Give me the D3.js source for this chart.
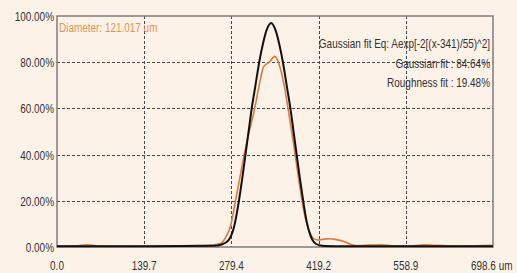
<!DOCTYPE html>
<html>
<head>
<meta charset="utf-8">
<script src="https://cdn.jsdelivr.net/npm/d3@7"></script>
<style>
  body { margin: 0; background: #fcf2e8; }
  text { font-family: "Liberation Sans", Arial, sans-serif; }
</style>
</head>
<body>
<div id="chart"></div>
<script>
// x ticks (um) and y ticks (%)
const xTicks = [0.0, 139.7, 279.4, 419.2, 558.9, 698.6];
const xTickLabels = ["0.0", "139.7", "279.4", "419.2", "558.9", "698.6 um"];
const yTicks = [0, 20, 40, 60, 80, 100];

// gaussian fit curve (black)
const fitX = [0, 150, 250, 265, 275, 283, 291.5, 297, 302, 307, 312, 318, 324, 330, 336, 343, 350, 356, 362, 368, 374, 379, 384, 389, 394.5, 400, 406, 412, 420, 430, 460, 698.6];
const fitY = [0.3, 0.3, 0.5, 1.2, 3, 8, 20, 30, 40, 50, 60, 70, 80, 88, 94, 97, 94, 88, 80, 70, 60, 50, 40, 30, 20, 11, 5, 2, 0.8, 0.4, 0.3, 0.3];

// measured roughness profile (orange)
const profX = [0, 30, 48, 65, 120, 200, 240, 262, 270, 278, 286, 293, 300, 308, 316, 324, 331, 340, 349, 356, 364, 372, 380, 388, 396, 404, 412, 419, 428, 438, 448, 460, 470, 480, 500, 520, 540, 560, 590, 610, 640, 670, 698.6];
const profY = [0.4, 0.5, 1.0, 0.4, 0.3, 0.5, 0.6, 1.5, 4, 9, 20, 30, 40, 50, 59, 70, 78, 80, 82.5, 79, 70, 57, 43, 28, 15, 7, 3.5, 3, 3.4, 3.6, 3.2, 2.4, 1.2, 0.6, 0.8, 1.0, 0.5, 0.4, 0.9, 0.7, 0.4, 0.5, 0.7];

const diameterLabel = "Diameter: 121.017 um";
const infoLines = [
  "Gaussian fit Eq: Aexp[-2[(x-341)/55)^2]",
  "Gaussian fit : 84.64%",
  "Roughness fit : 19.48%"
];

const WIDTH = 517;
const HEIGHT = 273;
const MARGIN = { LEFT: 57, RIGHT: 24, TOP: 16, BOTTOM: 26 };
const SQUEEZE = 0.83; // labels in the original use a narrow face

const svg = d3.select("#chart")
  .append("svg")
  .attr("width", WIDTH)
  .attr("height", HEIGHT);

svg.append("rect")
  .attr("width", WIDTH)
  .attr("height", HEIGHT)
  .attr("fill", "#fcf2e8");

const x = d3.scaleLinear()
  .domain([0, 698.6])
  .range([MARGIN.LEFT, WIDTH - MARGIN.RIGHT]);

const y = d3.scaleLinear()
  .domain([0, 100])
  .range([HEIGHT - MARGIN.BOTTOM, MARGIN.TOP]);

const narrow = (px, py) => `translate(${px},${py}) scale(${SQUEEZE},1)`;

// grid
const grid = svg.append("g")
  .attr("stroke", "#4a4a4a")
  .attr("stroke-width", 1)
  .attr("stroke-dasharray", "3,2");

grid.selectAll(".hgrid")
  .data(yTicks.filter((d) => d > 0 && d < 100))
  .enter()
  .append("line")
  .attr("x1", x(0))
  .attr("x2", x(698.6))
  .attr("y1", (d) => Math.round(y(d)) + 0.5)
  .attr("y2", (d) => Math.round(y(d)) + 0.5);

grid.selectAll(".vgrid")
  .data(xTicks.slice(1, -1))
  .enter()
  .append("line")
  .attr("x1", (d) => Math.round(x(d)) + 0.5)
  .attr("x2", (d) => Math.round(x(d)) + 0.5)
  .attr("y1", y(100))
  .attr("y2", y(0));

// frame
svg.append("rect")
  .attr("x", x(0))
  .attr("y", y(100))
  .attr("width", x(698.6) - x(0))
  .attr("height", y(0) - y(100))
  .attr("fill", "none")
  .attr("stroke", "#7c7c7c")
  .attr("stroke-width", 1.5);

// y labels
svg.selectAll(".ylab")
  .data(yTicks)
  .enter()
  .append("text")
  .attr("transform", (d) => narrow(x(0) - 3, y(d) + 5))
  .attr("text-anchor", "end")
  .attr("font-size", "12px")
  .attr("fill", "#333")
  .text((d) => d.toFixed(2) + "%");

// x labels (last one carries the unit, so it starts left of its tick)
svg.selectAll(".xlab")
  .data(xTicks)
  .enter()
  .append("text")
  .attr("transform", (d, i) =>
    narrow(i === xTicks.length - 1 ? x(d) - 22 : x(d), HEIGHT - 3))
  .attr("text-anchor", (d, i) => i === xTicks.length - 1 ? "start" : "middle")
  .attr("font-size", "12px")
  .attr("fill", "#333")
  .text((d, i) => xTickLabels[i]);

// curves
const line = d3.line()
  .x((d) => x(d[0]))
  .y((d) => y(d[1]))
  .curve(d3.curveMonotoneX);

svg.append("path")
  .datum(profX.map((d, i) => [d, profY[i]]))
  .attr("fill", "none")
  .attr("stroke", "#dc7a40")
  .attr("stroke-width", 1.6)
  .attr("d", line);

svg.append("path")
  .datum(fitX.map((d, i) => [d, fitY[i]]))
  .attr("fill", "none")
  .attr("stroke", "#111")
  .attr("stroke-width", 2)
  .attr("d", line);

// annotations
svg.append("text")
  .attr("transform", narrow(x(0) + 2, 32))
  .attr("font-size", "12px")
  .attr("fill", "#e0925a")
  .text(diameterLabel);

svg.selectAll(".info")
  .data(infoLines)
  .enter()
  .append("text")
  .attr("transform", (d, i) => narrow(x(698.6) - 3, 48 + i * 19.5))
  .attr("text-anchor", "end")
  .attr("font-size", "12px")
  .attr("fill", "#333")
  .text((d) => d);
</script>
</body>
</html>
